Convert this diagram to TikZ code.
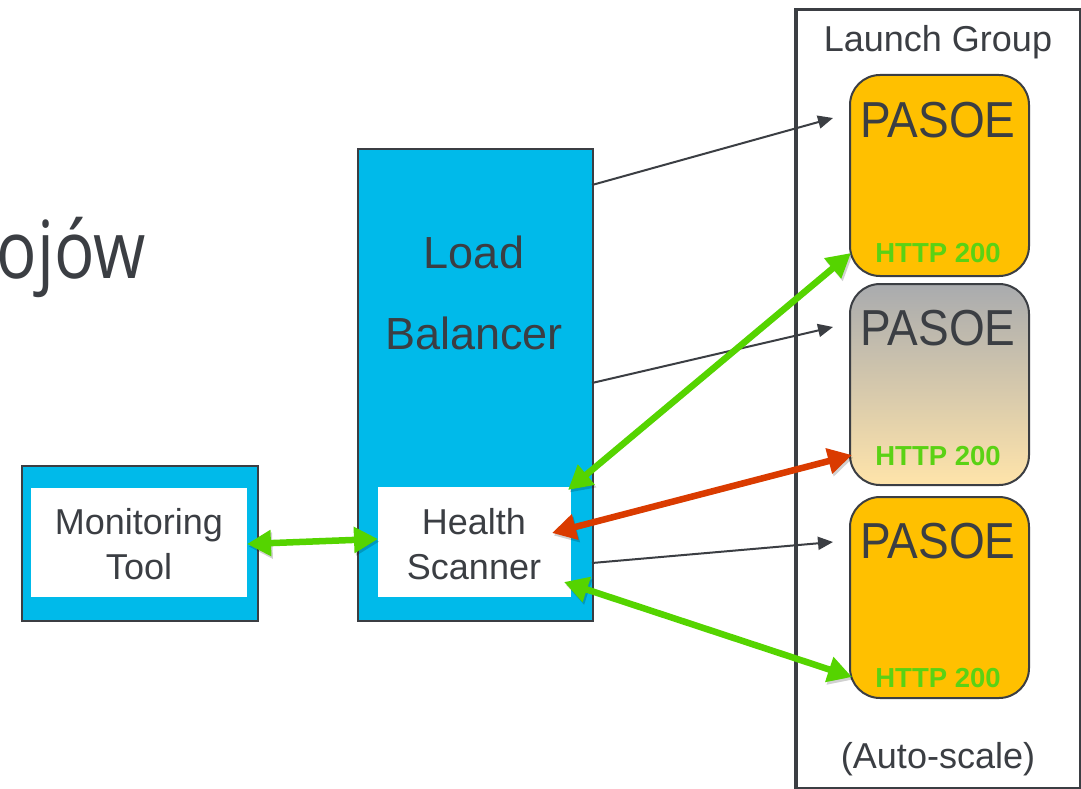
\documentclass[tikz,border=0pt]{standalone}
\usepackage{fontspec}
\setmainfont{Liberation Sans}
\newfontfamily\opensans{Open Sans}
\usetikzlibrary{arrows.meta}
\definecolor{tgray}{HTML}{3B3E43}
\definecolor{cyanb}{HTML}{00BAEA}
\definecolor{pasoe}{HTML}{FFC000}
\definecolor{agreen}{HTML}{55D400}
\definecolor{hgreen}{HTML}{5AD214}
\definecolor{ared}{HTML}{DA3B00}
\definecolor{gtop}{HTML}{A9ABAE}
\definecolor{gmid}{HTML}{DCC89E}
\definecolor{gbot}{HTML}{FFE4AA}
\begin{document}
\begin{tikzpicture}[x=1pt,y=-1pt,
  box/.style={draw=tgray, line width=2pt, inner sep=0, anchor=north west},
  pbox/.style={box, rounded corners=30pt, minimum width=179pt, minimum height=201pt},
  lbl/.style={text=tgray, inner sep=0, anchor=base},
  big/.style={lbl, font=\fontsize{45}{50}\selectfont},
  mid/.style={lbl, font=\fontsize{36}{40}\selectfont},
  ptxt/.style={lbl, font=\fontsize{46}{50}\selectfont},
  http/.style={inner sep=0, anchor=base, text=hgreen, font=\bfseries\fontsize{27.5}{30}\selectfont},
  shadowed/.style={preaction={draw=black, opacity=0.18, transform canvas={shift={(1.5pt,-2.5pt)}}}},
  thin arrow/.style={draw=tgray, line width=2pt, -{Triangle[length=15pt,width=13pt]}},
  garrow/.style={shadowed, draw=agreen, line width=6.5pt, {Triangle[length=24pt,width=25pt]}-{Triangle[length=24pt,width=25pt]}},
  rarrow/.style={shadowed, draw=ared, line width=6.5pt, {Triangle[length=24pt,width=25pt]}-{Triangle[length=24pt,width=25pt]}}
]
\useasboundingbox (0,0) rectangle (1081,789);
\fill[white] (0,0) rectangle (1081,789);

% partial title
\node[anchor=base east, text=tgray, inner sep=0, font=\opensans\fontsize{80}{90}\selectfont] (title) at (146,278) {\scalebox{0.84}[1]{ojów}};

% Launch group
\node[draw=tgray, line width=3.5pt, inner sep=0, anchor=north west, minimum width=285pt, minimum height=779pt] (lg) at (794,8) {};
\node[mid] (lgt) at (938,52) {Launch Group};
\node[mid] (auto) at (938,768) {(Auto-scale)};

% PASOE boxes
\node[pbox, fill=pasoe] (p1) at (849,74) {};
\node[pbox, top color=gtop, middle color=gmid, bottom color=gbot] (p2) at (849,283) {};
\node[pbox, fill=pasoe] (p3) at (849,496) {};
\node[ptxt] (p1t) at (938,138) {\scalebox{1}[1.1]{PASOE}};
\node[ptxt] (p2t) at (938,345) {\scalebox{1}[1.1]{PASOE}};
\node[ptxt] (p3t) at (938,558) {\scalebox{1}[1.1]{PASOE}};
\node[http] (h1) at (938,262) {HTTP 200};
\node[http] (h2) at (938,465) {HTTP 200};
\node[http] (h3) at (938,687) {HTTP 200};

% Load balancer
\node[box, fill=cyanb, minimum width=235pt, minimum height=472pt] (lb) at (357,148) {};
\node[big] (lbt1) at (474,268) {Load};
\node[big] (lbt2) at (474,349) {Balancer};
\node[fill=white, inner sep=0, anchor=north west, minimum width=193pt, minimum height=110pt] (hs) at (378,487) {};
\node[mid] (hst1) at (474,534) {Health};
\node[mid] (hst2) at (474,579) {Scanner};

% Monitoring tool
\node[box, fill=cyanb, minimum width=236pt, minimum height=155pt] (mt) at (21,465) {};
\node[fill=white, inner sep=0, anchor=north west, minimum width=216pt, minimum height=109pt] (mti) at (31,488) {};
\node[mid] (mtt1) at (139,534) {Monitoring};
\node[mid] (mtt2) at (139,579) {Tool};

% connector end points
\coordinate (lbo1) at (592,185);
\coordinate (lbo2) at (592,383);
\coordinate (lbo3) at (592,563);
\coordinate (p1in) at (833,118);
\coordinate (p2in) at (833,327);
\coordinate (p3in) at (833,542);
\coordinate (hsA) at (568,490);
\coordinate (hsB) at (552,533);
\coordinate (hsC) at (564,582);
\coordinate (hsD) at (378,539);
\coordinate (p1h) at (851,253);
\coordinate (p2h) at (852,455);
\coordinate (p3h) at (852,677);
\coordinate (mto) at (247,544);

% thin arrows
\draw[thin arrow] (lbo1) -- (p1in);
\draw[thin arrow] (lbo2) -- (p2in);
\draw[thin arrow] (lbo3) -- (p3in);

% health arrows
\draw[garrow] (hsA) -- (p1h);
\draw[rarrow] (hsB) -- (p2h);
\draw[garrow] (hsC) -- (p3h);
\draw[garrow] (mto) -- (hsD);
\end{tikzpicture}
\end{document}
